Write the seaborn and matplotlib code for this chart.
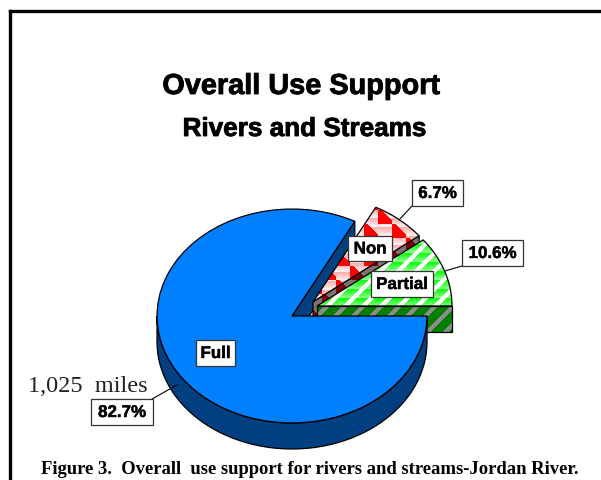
import numpy as np
import matplotlib
matplotlib.use("Agg")
import matplotlib.pyplot as plt
import matplotlib.patheffects as pe
from matplotlib.patches import Polygon
import seaborn as sns

# data
categories = ["Full", "Non", "Partial"]
shares = [82.7, 6.7, 10.6]
share_labels = ["82.7%", "6.7%", "10.6%"]
miles_label = "1,025  miles"
title = "Overall Use Support"
subtitle = "Rivers and Streams"
caption = "Figure 3.  Overall  use support for rivers and streams-Jordan River."

sns.set_theme(style="white")
plt.rcParams["font.family"] = ["Liberation Sans", "DejaVu Sans"]

fig = plt.figure(figsize=(6.01, 4.8), dpi=100)
ax = fig.add_axes([0, 0, 1, 1])
ax.set_xlim(0, 601)
ax.set_ylim(480, 0)
ax.axis("off")

RX, RY, DEPTH = 135, 107, 26

# slice angles come from the shares, non and partial sit on the right
ang_partial = shares[2] * 3.6
ang_non = ang_partial + shares[1] * 3.6

heavy = [pe.withStroke(linewidth=0.6, foreground="black")]


def arc(cx, cy, a0, a1, n=60):
    t = np.radians(np.linspace(a0, a1, n))
    return np.column_stack([cx + RX * np.cos(t), cy - RY * np.sin(t)])


def sector(cx, cy, a0, a1):
    return np.vstack([[cx, cy], arc(cx, cy, a0, a1)])


def band(p0, p1):
    return np.array([p0, p1, [p1[0], p1[1] + DEPTH], [p0[0], p0[1] + DEPTH]])


def textured(pts, img, box, z):
    p = Polygon(pts, closed=True, fc="none", ec="none", zorder=z)
    ax.add_patch(p)
    im = ax.imshow(img, extent=(box[0], box[1], box[3], box[2]), aspect="auto", zorder=z, interpolation="nearest")
    im.set_clip_path(p)
    ax.set_xlim(0, 601)
    ax.set_ylim(480, 0)
    ax.add_patch(Polygon(pts, closed=True, fc="none", ec="black", lw=0.9, zorder=z + 0.5))


def banded(box, c_dark, c_light, step):
    # horizontal gradient bands used by the chart's fill
    xx, yy = np.meshgrid(np.arange(box[0], box[1]), np.arange(box[2], box[3]))
    f = ((yy - box[2]) % step) / (step - 1.0)
    c_dark = np.array(c_dark)
    c_light = np.array(c_light)
    return xx, yy, c_dark + (c_light - c_dark) * f[..., None]


def triangles(xx, yy, tile=14):
    # checker of right triangles, the red fill pattern
    odd = (xx // tile + yy // tile) % 2 == 0
    return odd & ((xx % tile) <= (yy % tile) + 3)


rim_dark = "#004080"
fx, fy = 292, 316

# cut face of the full slice sits behind the non slice
tip = arc(fx, fy, ang_non, ang_non, 1)[0]
ax.add_patch(Polygon(band((fx, fy), tip), closed=True, fc=rim_dark, ec="black", lw=0.9, zorder=1))

# non slice
nx, ny = 313, 302
box = (300, 430, 200, 340)
xx, yy, img = banded(box, (1.0, 0.68, 0.68), (1.0, 0.95, 0.95), 9)
mask = triangles(xx, yy)
img[mask] = (1, 0, 0)
textured(sector(nx, ny, ang_partial, ang_non), img, box, 2)

# non cut face
end = arc(nx, ny, ang_partial, ang_partial, 1)[0]
img = np.where(mask[..., None], (0.5, 0.0, 0.0), (0.5, 0.45, 0.45))
textured(band((nx, ny), end), img, box, 3)

# partial slice
px, py = 317, 306
box = (310, 460, 235, 340)
xx, yy, img = banded(box, (0.05, 1.0, 0.05), (0.55, 1.0, 0.55), 9)
stripes = ((xx + yy) % 18) < 6
img[stripes] = (1, 1, 1)
textured(sector(px, py, 0, ang_partial), img, box, 5)

# partial cut face
right = arc(px, py, 0, 0, 1)[0]
img = np.where(stripes[..., None], (0.55, 0.55, 0.55), (0.0, 0.5, 0.0))
textured(band((px, py), right), img, box, 6)

# full slice: rim then top
top = arc(fx, fy, 180, 360)
rim = np.vstack([top, (top + [0, DEPTH])[::-1]])
ax.add_patch(Polygon(rim, closed=True, fc=rim_dark, ec="black", lw=0.9, zorder=8))
ax.add_patch(Polygon(sector(fx, fy, ang_non, 360), closed=True, fc="#0080ff", ec="black", lw=0.9, zorder=9))

# leader lines
ax.plot([177, 152], [385, 399], color="black", lw=0.8, zorder=10)
ax.plot([399, 412], [220, 206], color="black", lw=0.8, zorder=4)
ax.plot([445, 462], [271, 266], color="black", lw=0.8, zorder=10)


def label(x, y, text, w, h, size=12.2):
    ax.add_patch(plt.Rectangle((x - w / 2, y - h / 2), w, h, fc="white", ec="#333333", lw=0.9, zorder=11))
    ax.text(x, y + 0.5, text, ha="center", va="center", fontsize=size, fontweight="bold", color="black", zorder=12,
            path_effects=[pe.withStroke(linewidth=0.3, foreground="black")])


label(215.5, 353, categories[0], 39, 26)
label(370, 248.5, categories[1], 44, 25)
label(402, 284, categories[2], 62, 26)
label(122, 412, share_labels[0], 62, 26)
label(437.5, 193, share_labels[1], 51, 26)
label(492.5, 253, share_labels[2], 61, 26)

ax.text(88, 386, miles_label, ha="center", va="center", fontsize=17.5, family="Liberation Serif", color="#222222")
ax.text(301, 86, title, ha="center", va="center", fontsize=20.8, fontweight="bold", color="black", path_effects=heavy)
ax.text(304.5, 129, subtitle, ha="center", va="center", fontsize=18.8, fontweight="bold", color="black", path_effects=heavy)
ax.text(309.5, 470, caption, ha="center", va="center", fontsize=13.4, fontweight="bold", family="Liberation Serif", color="black")

# page frame, open on the right
ax.plot([9.5, 9.5], [480, 10.5], color="black", lw=2.4, solid_capstyle="projecting")
ax.plot([9.5, 601], [10.5, 10.5], color="black", lw=2.4, solid_capstyle="projecting")

fig.savefig("out.png", dpi=100, facecolor="white")
